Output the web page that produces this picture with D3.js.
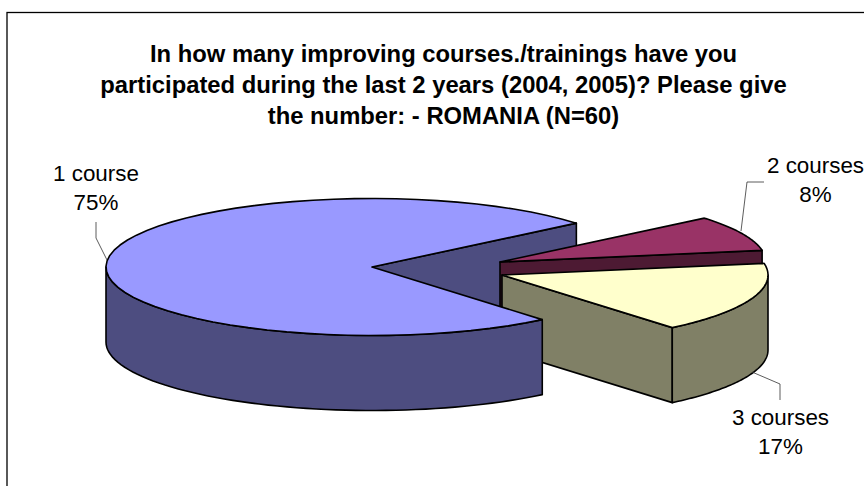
<!DOCTYPE html>
<html><head><meta charset="utf-8">
<script src="https://cdn.jsdelivr.net/npm/d3@7/dist/d3.min.js"></script>
<style>html,body{margin:0;padding:0;background:#fff}svg{display:block}text{font-family:"Liberation Sans",Arial,sans-serif;fill:#000}</style>
</head><body><svg id="c" width="864" height="486"></svg>
<script>
const categories = ["1 course", "2 courses", "3 courses"];
const values = [45, 5, 10];
const percentLabels = ["75%", "8%", "17%"];
const titleLines = ["In how many improving courses./trainings have you",
  "participated during the last 2 years (2004, 2005)? Please give",
  "the number: - ROMANIA (N=60)"];
const topColors = ["#9999ff", "#993366", "#ffffcc"];
const wallColors = ["#4d4d80", "#4d1a33", "#808066"];

const W = 864, H = 486, rx = 266, ry = 68.5, depth = 75;
const centers = [[372, 267], [500, 262], [502, 275]];
const labelPos = [[96, 181], [815.5, 173], [780.5, 425]];
const leaders = [
  [[96, 222], [96, 238], [107, 260]],
  [[764, 182], [747, 182], [741, 231]],
  [[780, 400], [780, 384], [752, 372]]
];
const svg = d3.select("#c");
const deg = Math.PI / 180;
const startDeg = 140.2;
const pie = d3.pie().sort(null).value(d => d).startAngle(startDeg * deg).endAngle((startDeg + 360) * deg);
const arcs = pie(values);
const line = d3.line();

const pt = (c, a, dy = 0) => [c[0] + rx * Math.sin(a), c[1] - ry * Math.cos(a) + dy];
const sample = (c, a0, a1, dy = 0) => d3.range(0, 61).map(i => pt(c, a0 + (a1 - a0) * i / 60, dy));

function topFace(g, i) {
  const a = arcs[i], c = centers[i];
  const pts = [c].concat(sample(c, a.startAngle, a.endAngle));
  g.append("path").attr("d", line(pts) + "Z").attr("fill", topColors[i]);
}
function cutFace(g, i, ang) {
  const c = centers[i], e = pt(c, ang), e2 = pt(c, ang, depth);
  g.append("path").attr("d", line([c, e, e2, [c[0], c[1] + depth]]) + "Z").attr("fill", wallColors[i]);
}
function outerWall(g, i, a0, a1) {
  const c = centers[i];
  const pts = sample(c, a0, a1).concat(sample(c, a1, a0, depth));
  g.append("path").attr("d", line(pts) + "Z").attr("fill", wallColors[i]);
}
const g = svg.append("g").attr("stroke", "#000").attr("stroke-width", 1.6).attr("stroke-linejoin", "round");

// frame
svg.insert("rect", "g").attr("x", 7).attr("y", 12.5).attr("width", W).attr("height", H)
  .attr("fill", "#fff").attr("stroke", "#000").attr("stroke-width", 1.3);

// notch wall of the large slice, behind the exploded slices
cutFace(g, 0, arcs[0].endAngle);
// slice 2
cutFace(g, 1, arcs[1].endAngle);
topFace(g, 1);
// slice 3
cutFace(g, 2, arcs[2].endAngle);
outerWall(g, 2, 2.5 * Math.PI, arcs[2].endAngle);
topFace(g, 2);
// large slice front
outerWall(g, 0, arcs[0].startAngle, 1.5 * Math.PI);
topFace(g, 0);

// leaders
leaders.forEach(l => svg.append("path").attr("d", line(l)).attr("fill", "none").attr("stroke", "#333").attr("stroke-width", 0.8));

// labels
categories.forEach((c, i) => {
  const [x, y] = labelPos[i];
  svg.append("text").attr("x", x).attr("y", y).attr("text-anchor", "middle").attr("font-size", 22.4).text(c);
  svg.append("text").attr("x", x).attr("y", y + 28.5).attr("text-anchor", "middle").attr("font-size", 22.4).text(percentLabels[i]);
});
// title
titleLines.forEach((t, i) => {
  svg.append("text").attr("x", 443.5).attr("y", 62 + i * 31).attr("text-anchor", "middle")
    .attr("font-size", 23.8).attr("font-weight", "bold").text(t);
});
</script></body></html>
